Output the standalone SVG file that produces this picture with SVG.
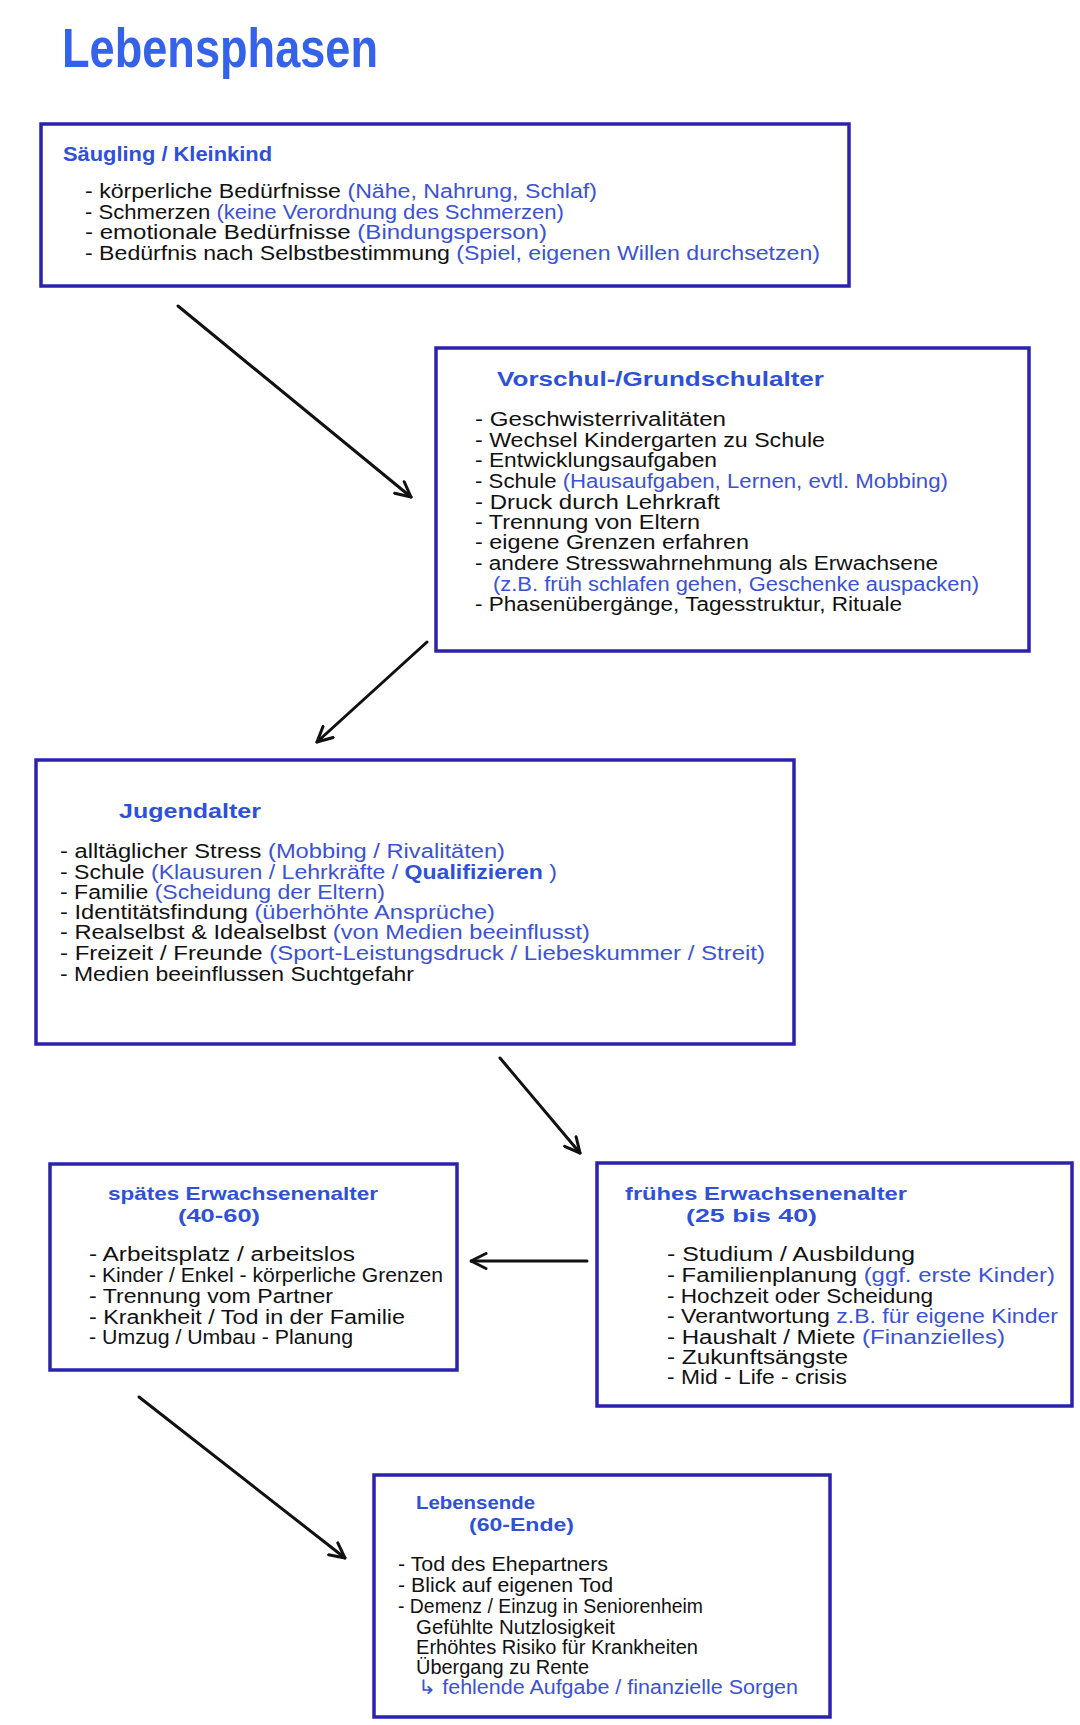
<svg xmlns="http://www.w3.org/2000/svg" width="1080" height="1725" viewBox="0 0 1080 1725">
<style>
.box{fill:#ffffff;stroke:#2b22ad;stroke-width:3.5}
.t{font-family:"Liberation Sans",Arial,sans-serif;font-size:20px;fill:#111111}
.b{fill:#3b52d4}
.h{font-family:"Liberation Sans",Arial,sans-serif;font-size:20px;font-weight:bold;fill:#2f50d8}
.h2{font-size:19px}
.q{font-weight:bold;fill:#2f50d8}
.title{font-family:"Liberation Sans",Arial,sans-serif;font-size:56px;font-weight:bold;fill:#3562ea}
.arr{fill:none;stroke:#111111;stroke-width:3;stroke-linecap:round}
</style>
<defs>
<marker id="ah" viewBox="0 0 12 12" refX="11" refY="6" markerWidth="6" markerHeight="6" orient="auto" markerUnits="strokeWidth">
<path d="M1,1 L11,6 L1,11" fill="none" stroke="#111111" stroke-width="2" stroke-linecap="round" stroke-linejoin="round"/>
</marker>
</defs>
<rect width="1080" height="1725" fill="#ffffff"/>
<text id="title" class="title" x="62" y="67" textLength="316" lengthAdjust="spacingAndGlyphs">Lebensphasen</text>

<g id="connectors">
<line class="arr" x1="178" y1="306" x2="411" y2="497" marker-end="url(#ah)"/>
<line class="arr" x1="427" y1="642" x2="317" y2="742" marker-end="url(#ah)"/>
<line class="arr" x1="500" y1="1058" x2="580" y2="1153" marker-end="url(#ah)"/>
<line class="arr" x1="587" y1="1261" x2="471" y2="1261" marker-end="url(#ah)"/>
<line class="arr" x1="139" y1="1397" x2="345" y2="1558" marker-end="url(#ah)"/>
</g>

<g id="saeugling">
<rect class="box" x="41" y="124" width="808" height="162"/>
<text class="h" x="63" y="161" textLength="209" lengthAdjust="spacingAndGlyphs">Säugling / Kleinkind</text>
<text class="t" x="85" y="198" textLength="512" lengthAdjust="spacingAndGlyphs">- körperliche Bedürfnisse <tspan class="b">(Nähe, Nahrung, Schlaf)</tspan></text>
<text class="t" x="85" y="219" textLength="479" lengthAdjust="spacingAndGlyphs">- Schmerzen <tspan class="b">(keine Verordnung des Schmerzen)</tspan></text>
<text class="t" x="85" y="239" textLength="462" lengthAdjust="spacingAndGlyphs">- emotionale Bedürfnisse <tspan class="b">(Bindungsperson)</tspan></text>
<text class="t" x="85" y="260" textLength="735" lengthAdjust="spacingAndGlyphs">- Bedürfnis nach Selbstbestimmung <tspan class="b">(Spiel, eigenen Willen durchsetzen)</tspan></text>
</g>

<g id="vorschul">
<rect class="box" x="436" y="348" width="593" height="303"/>
<text class="h" x="497" y="386" textLength="327" lengthAdjust="spacingAndGlyphs">Vorschul-/Grundschulalter</text>
<text class="t" x="475" y="426" textLength="251" lengthAdjust="spacingAndGlyphs">- Geschwisterrivalitäten</text>
<text class="t" x="475" y="447" textLength="350" lengthAdjust="spacingAndGlyphs">- Wechsel Kindergarten zu Schule</text>
<text class="t" x="475" y="467" textLength="242" lengthAdjust="spacingAndGlyphs">- Entwicklungsaufgaben</text>
<text class="t" x="475" y="488" textLength="473" lengthAdjust="spacingAndGlyphs">- Schule <tspan class="b">(Hausaufgaben, Lernen, evtl. Mobbing)</tspan></text>
<text class="t" x="475" y="509" textLength="245" lengthAdjust="spacingAndGlyphs">- Druck durch Lehrkraft</text>
<text class="t" x="475" y="529" textLength="225" lengthAdjust="spacingAndGlyphs">- Trennung von Eltern</text>
<text class="t" x="475" y="549" textLength="274" lengthAdjust="spacingAndGlyphs">- eigene Grenzen erfahren</text>
<text class="t" x="475" y="570" textLength="463" lengthAdjust="spacingAndGlyphs">- andere Stresswahrnehmung als Erwachsene</text>
<text class="t b" x="493" y="591" textLength="486" lengthAdjust="spacingAndGlyphs">(z.B. früh schlafen gehen, Geschenke auspacken)</text>
<text class="t" x="475" y="611" textLength="427" lengthAdjust="spacingAndGlyphs">- Phasenübergänge, Tagesstruktur, Rituale</text>
</g>

<g id="jugend">
<rect class="box" x="36" y="760" width="758" height="284"/>
<text class="h" x="119" y="818" textLength="142" lengthAdjust="spacingAndGlyphs">Jugendalter</text>
<text class="t" x="60" y="858" textLength="445" lengthAdjust="spacingAndGlyphs">- alltäglicher Stress <tspan class="b">(Mobbing / Rivalitäten)</tspan></text>
<text class="t" x="60" y="879" textLength="497" lengthAdjust="spacingAndGlyphs">- Schule <tspan class="b">(Klausuren / Lehrkräfte / </tspan><tspan class="q">Qualifizieren</tspan><tspan class="b"> )</tspan></text>
<text class="t" x="60" y="899" textLength="325" lengthAdjust="spacingAndGlyphs">- Familie <tspan class="b">(Scheidung der Eltern)</tspan></text>
<text class="t" x="60" y="919" textLength="435" lengthAdjust="spacingAndGlyphs">- Identitätsfindung <tspan class="b">(überhöhte Ansprüche)</tspan></text>
<text class="t" x="60" y="939" textLength="530" lengthAdjust="spacingAndGlyphs">- Realselbst &amp; Idealselbst <tspan class="b">(von Medien beeinflusst)</tspan></text>
<text class="t" x="60" y="960" textLength="705" lengthAdjust="spacingAndGlyphs">- Freizeit / Freunde <tspan class="b">(Sport-Leistungsdruck / Liebeskummer / Streit)</tspan></text>
<text class="t" x="60" y="981" textLength="354" lengthAdjust="spacingAndGlyphs">- Medien beeinflussen Suchtgefahr</text>
</g>

<g id="fruehes">
<rect class="box" x="597" y="1163" width="475" height="243"/>
<text class="h h2" x="625" y="1200" textLength="282" lengthAdjust="spacingAndGlyphs">frühes Erwachsenenalter</text>
<text class="h h2" x="686" y="1222" textLength="131" lengthAdjust="spacingAndGlyphs">(25 bis 40)</text>
<text class="t" x="667" y="1261" textLength="248" lengthAdjust="spacingAndGlyphs">- Studium / Ausbildung</text>
<text class="t" x="667" y="1282" textLength="388" lengthAdjust="spacingAndGlyphs">- Familienplanung <tspan class="b">(ggf. erste Kinder)</tspan></text>
<text class="t" x="667" y="1303" textLength="266" lengthAdjust="spacingAndGlyphs">- Hochzeit oder Scheidung</text>
<text class="t" x="667" y="1323" textLength="391" lengthAdjust="spacingAndGlyphs">- Verantwortung <tspan class="b">z.B. für eigene Kinder</tspan></text>
<text class="t" x="667" y="1344" textLength="338" lengthAdjust="spacingAndGlyphs">- Haushalt / Miete <tspan class="b">(Finanzielles)</tspan></text>
<text class="t" x="667" y="1364" textLength="181" lengthAdjust="spacingAndGlyphs">- Zukunftsängste</text>
<text class="t" x="667" y="1384" textLength="180" lengthAdjust="spacingAndGlyphs">- Mid - Life - crisis</text>
</g>

<g id="spaetes">
<rect class="box" x="50" y="1164" width="407" height="206"/>
<text class="h h2" x="108" y="1200" textLength="270" lengthAdjust="spacingAndGlyphs">spätes Erwachsenenalter</text>
<text class="h h2" x="178" y="1222" textLength="82" lengthAdjust="spacingAndGlyphs">(40-60)</text>
<text class="t" x="89" y="1261" textLength="266" lengthAdjust="spacingAndGlyphs">- Arbeitsplatz / arbeitslos</text>
<text class="t" x="89" y="1282" textLength="354" lengthAdjust="spacingAndGlyphs">- Kinder / Enkel - körperliche Grenzen</text>
<text class="t" x="89" y="1303" textLength="244" lengthAdjust="spacingAndGlyphs">- Trennung vom Partner</text>
<text class="t" x="89" y="1324" textLength="316" lengthAdjust="spacingAndGlyphs">- Krankheit / Tod in der Familie</text>
<text class="t" x="89" y="1344" textLength="264" lengthAdjust="spacingAndGlyphs">- Umzug / Umbau - Planung</text>
</g>

<g id="lebensende">
<rect class="box" x="374" y="1475" width="456" height="242"/>
<text class="h h2" x="416" y="1509" textLength="119" lengthAdjust="spacingAndGlyphs">Lebensende</text>
<text class="h h2" x="469" y="1531" textLength="105" lengthAdjust="spacingAndGlyphs">(60-Ende)</text>
<text class="t" x="398" y="1571" textLength="210" lengthAdjust="spacingAndGlyphs">- Tod des Ehepartners</text>
<text class="t" x="398" y="1592" textLength="215" lengthAdjust="spacingAndGlyphs">- Blick auf eigenen Tod</text>
<text class="t" x="398" y="1613" textLength="305" lengthAdjust="spacingAndGlyphs">- Demenz / Einzug in Seniorenheim</text>
<text class="t" x="416" y="1634" textLength="199" lengthAdjust="spacingAndGlyphs">Gefühlte Nutzlosigkeit</text>
<text class="t" x="416" y="1654" textLength="282" lengthAdjust="spacingAndGlyphs">Erhöhtes Risiko für Krankheiten</text>
<text class="t" x="416" y="1674" textLength="173" lengthAdjust="spacingAndGlyphs">Übergang zu Rente</text>
<text class="t b" x="418" y="1694" textLength="380" lengthAdjust="spacingAndGlyphs">↳ fehlende Aufgabe / finanzielle Sorgen</text>
</g>
</svg>
